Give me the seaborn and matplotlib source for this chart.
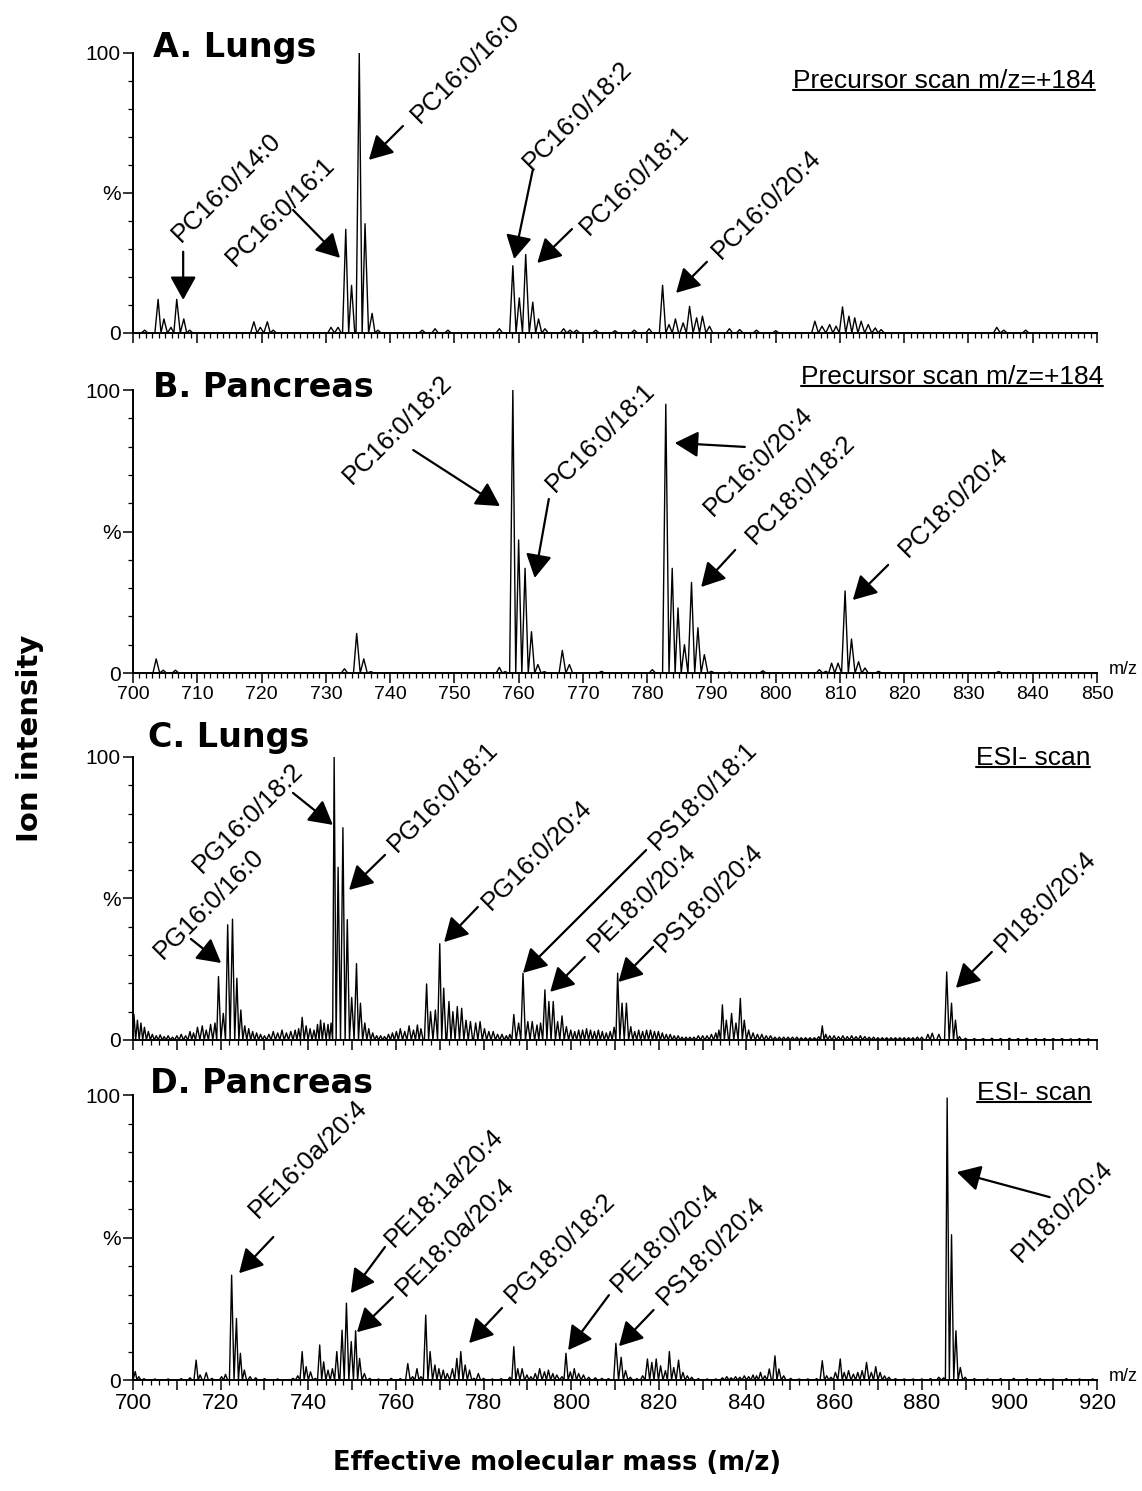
import numpy as np
import pandas as pd
import seaborn as sns
import matplotlib.pyplot as plt
from matplotlib import font_manager
from matplotlib.ticker import MultipleLocator, FixedLocator, FuncFormatter
from matplotlib.lines import Line2D
from matplotlib.transforms import IdentityTransform

sns.set_style('ticks')
plt.rcParams['font.family'] = ['Liberation Sans', 'DejaVu Sans']
for key in ['text.color', 'axes.labelcolor', 'xtick.color', 'ytick.color', 'axes.edgecolor']:
    plt.rcParams[key] = 'black'

names = {f.name for f in font_manager.fontManager.ttflist}
if 'Liberation Sans Narrow' in names:
    NARROW = ['Liberation Sans Narrow', 'DejaVu Sans']
    LBL = 22
else:
    NARROW = ['Liberation Sans', 'DejaVu Sans']
    LBL = 18.5

# ---- peak lists (m/z, relative intensity %) ----
a_mz = [701.8, 703.9, 704.8, 705.9, 706.8, 707.9, 708.8, 718.8, 719.8, 720.9, 721.8,
        730.8, 731.9, 733.1, 734.0, 735.2, 736.1, 737.2, 738.1, 745.0, 747.0, 749.0,
        757.0, 759.1, 760.1, 761.1, 762.2, 763.1, 764.1, 767.0, 768.0, 769.0, 772.0,
        775.0, 778.0, 780.3, 782.4, 783.4, 784.4, 785.6, 786.6, 787.7, 788.6, 789.7,
        792.8, 794.4, 797.0, 800.0, 806.1, 807.2, 808.4, 809.4, 810.4, 811.4, 812.3,
        813.3, 814.4, 815.5, 816.4, 834.4, 835.5, 838.9]
a_int = [1, 12, 5, 2, 12, 5, 1, 4, 2, 4, 1,
         2, 2, 37, 17, 100, 39, 7, 1, 1, 1.5, 1,
         1.5, 24, 12.5, 28, 11, 5, 1.5, 1.5, 1, 1, 1,
         0.8, 1, 1.5, 17, 3, 5, 3.6, 9.5, 5.4, 6, 2.4,
         1.5, 1.2, 1, 0.8, 4.2, 2.4, 3, 2.4, 9.3, 6, 5.4,
         4.2, 3, 1.8, 1.2, 2, 1, 1]

b_mz = [703.6, 704.7, 706.6, 732.9, 734.8, 735.9, 737.0, 757.0, 757.9, 759.1, 760.0,
        761.0, 762.0, 763.0, 764.0, 766.8, 767.9, 772.9, 780.8, 782.9, 783.9, 784.8,
        785.8, 786.9, 787.9, 788.9, 790.0, 792.8, 798.0, 806.8, 807.8, 808.7, 809.7,
        810.8, 811.8, 812.9, 813.9, 816.0, 834.7]
b_int = [5, 1, 1, 1.5, 14, 5, 0.5, 2, 0.5, 100, 47,
         37, 14.6, 3, 0.5, 8, 3, 0.6, 1.2, 95, 37, 23,
         10, 32, 16, 6.5, 0.6, 0.3, 0.8, 1.2, 0.6, 3.5, 3.5,
         29, 12, 4, 1.8, 0.6, 0.5]

c_mz = [700.2, 701.0, 701.8, 702.6, 703.5, 704.4, 705.3, 706.2, 707.1, 708.0, 709.0,
        710.0, 711.0, 712.0, 713.0, 713.8, 714.7, 715.8, 716.7, 717.7, 718.7, 719.5,
        720.6, 721.6, 722.7, 723.7, 724.6, 725.5, 726.4, 727.3, 728.2, 729.1, 730.0,
        731.0, 732.0, 733.0, 734.0, 735.0, 736.0, 737.0, 737.8, 738.6, 739.5, 740.4,
        741.3, 742.1, 742.8, 743.6, 744.5, 745.2, 745.9, 746.8, 747.9, 748.9, 749.9,
        751.0, 751.9, 752.9, 753.8, 754.7, 755.6, 756.5, 757.4, 758.3, 759.2, 760.1,
        761.0, 762.0, 763.0, 764.0, 764.9, 765.7, 767.0, 767.9, 769.0, 770.0, 770.9,
        772.1, 773.0, 774.0, 775.0, 776.0, 777.0, 778.2, 779.2, 780.2, 781.2, 782.2,
        783.2, 784.2, 785.2, 786.0, 786.9, 788.0, 789.0, 790.1, 791.1, 792.2, 793.0,
        794.0, 794.9, 795.9, 796.9, 797.9, 798.9, 799.9, 800.8, 801.7, 802.6, 803.5,
        804.4, 805.3, 806.2, 807.1, 808.0, 808.9, 809.8, 810.6, 811.6, 812.6, 813.6,
        814.5, 815.4, 816.3, 817.2, 818.1, 819.0, 819.9, 820.8, 821.7, 822.6, 823.5,
        824.4, 825.3, 826.2, 827.1, 828.0, 829.0, 830.0, 831.0, 832.0, 833.0, 833.7,
        834.5, 835.4, 836.6, 837.6, 838.6, 839.5, 840.5, 841.5, 842.5, 843.5, 844.5,
        845.5, 846.5, 847.5, 848.5, 849.5, 850.5, 851.5, 852.5, 853.5, 854.5, 855.5,
        856.5, 857.3, 858.1, 859.0, 860.0, 861.0, 862.0, 863.0, 864.0, 865.0, 866.0,
        867.0, 868.0, 869.0, 870.0, 871.0, 872.0, 873.0, 874.0, 875.0, 876.0, 877.0,
        878.0, 879.0, 880.0, 881.4, 882.4, 883.9, 885.7, 886.8, 887.7, 888.6, 890.0,
        892.0, 894.0, 896.0, 898.0, 900.0, 902.0, 904.0, 906.0, 908.0, 910.0, 912.0,
        914.0, 916.0, 918.0]
c_int = [9, 7, 6, 4.5, 3, 2, 1.5, 1.8, 1.2, 1.5, 1,
         1.5, 2, 1.5, 3, 2.5, 4.5, 5, 3.5, 5.5, 6, 22.4,
         9.4, 40.7, 42.7, 21.8, 10.6, 5, 4, 3, 2.5, 2, 1.5,
         2, 3, 2.5, 3.5, 2.5, 3, 3.5, 4, 8, 5, 4,
         3.5, 5.5, 7, 6, 5.5, 6, 100, 61, 75, 42.5, 15,
         27, 13, 6, 4, 2.5, 1.5, 1.5, 1.2, 2, 2.5, 3,
         4, 3, 5, 3.5, 5.3, 4, 19.8, 10, 10.6, 34, 18.3,
         13.6, 10, 11.8, 11.2, 7, 6.5, 6, 6.5, 4, 3, 3,
         2, 2, 1.5, 2, 9, 6, 23.6, 6.5, 6.5, 5.3, 6,
         17.7, 13.6, 13.6, 6.5, 8.5, 4.7, 3.5, 3, 3.5, 3.5, 4,
         3.5, 3, 3.5, 3, 2.5, 3, 4.5, 23.6, 13, 13, 4.7,
         3, 3.5, 3, 3.5, 3.5, 3, 3, 2.5, 2, 2, 1.5,
         1.5, 1, 1, 1, 1, 1.5, 1.5, 1.5, 2, 2.5, 3.5,
         12.4, 7, 9.4, 6, 14.7, 7, 3.5, 2.5, 2, 2, 1.5,
         1.5, 1, 1, 1, 1, 1, 1, 0.8, 0.8, 0.8, 0.8,
         1.2, 5, 2, 1.5, 1.5, 1.2, 1.5, 1.2, 1.5, 1.2, 1.5,
         1.2, 1, 1, 0.8, 0.8, 0.8, 0.8, 0.8, 0.8, 0.8, 0.8,
         0.8, 1, 1, 2, 2.4, 2, 24, 13, 7, 1.2, 0.6,
         0.5, 0.5, 0.6, 0.5, 0.6, 0.5, 0.6, 0.5, 0.5, 0.5, 0.5,
         0.4, 0.5, 0.4]

d_mz = [700.5, 701.3, 702.5, 705.0, 708.0, 711.0, 713.0, 714.4, 715.3, 716.7, 718.0,
        720.2, 721.1, 722.5, 723.6, 724.5, 725.4, 726.7, 728.0, 730.0, 733.0, 736.5,
        737.6, 738.6, 739.5, 740.5, 741.6, 742.6, 743.5, 744.5, 745.5, 746.5, 747.7,
        748.7, 749.8, 750.8, 751.7, 752.8, 754.0, 756.0, 758.9, 761.0, 762.7, 763.8,
        764.8, 765.7, 766.8, 767.8, 768.9, 769.8, 770.8, 771.7, 772.9, 773.9, 774.8,
        775.8, 776.8, 777.8, 778.8, 780.0, 782.0, 784.0, 786.0, 786.9, 787.8, 788.8,
        789.9, 790.8, 791.8, 792.8, 793.9, 794.8, 795.8, 796.7, 797.9, 798.8, 799.8,
        800.7, 801.7, 802.8, 804.0, 805.5, 807.0, 808.5, 810.2, 811.4, 812.4, 813.5,
        815.0, 816.3, 817.4, 818.4, 819.4, 820.4, 821.5, 822.4, 823.4, 824.5, 825.5,
        826.5, 827.5, 829.0, 831.0, 833.0, 834.5, 835.5, 836.5, 837.5, 838.5, 839.5,
        840.5, 841.5, 842.3, 843.2, 844.2, 845.2, 846.5, 847.4, 848.5, 850.1, 852.0,
        854.0, 856.0, 857.3, 858.3, 859.3, 860.3, 861.4, 862.3, 863.3, 864.4, 865.4,
        866.4, 867.4, 868.5, 869.5, 870.5, 871.5, 872.5, 874.0, 876.0, 878.0, 880.0,
        882.0, 883.9, 885.0, 885.8, 886.8, 887.8, 888.8, 889.9, 892.0, 895.0, 898.0,
        901.0, 904.0, 907.0, 910.0, 913.0, 916.0, 919.0]
d_int = [3, 1.2, 0.5, 0.4, 0.4, 0.5, 0.8, 7, 1.8, 2.6, 0.6,
         1.2, 2, 36.8, 21.6, 9.4, 3.5, 1.2, 0.8, 0.5, 0.4, 0.6,
         1.5, 10, 4.7, 2.9, 0.6, 12.3, 6.4, 3.5, 4, 10, 17.5,
         27, 13.5, 17.3, 7.6, 2.3, 0.6, 0.4, 0.6, 0.5, 5.8, 1.2,
         4, 1.2, 22.8, 10, 5.3, 4, 3.5, 2.3, 4, 7.6, 10,
         5.3, 3.5, 0.6, 2.3, 0.6, 0.4, 0.5, 1, 11.7, 4, 4,
         1.8, 1.2, 2.3, 4, 2.9, 3.5, 2.3, 1.8, 1.2, 9.4, 2.9,
         4, 2.3, 1.8, 1, 0.8, 0.6, 0.5, 12.9, 8, 3.3, 1,
         0.5, 1.5, 7.4, 6.2, 7.4, 5, 3.3, 10, 4.4, 7, 2.7,
         1.5, 1, 0.5, 0.4, 0.4, 0.8, 1.2, 0.8, 1.2, 1, 1.5,
         1.2, 1.8, 1.5, 2.7, 1.5, 3.9, 8.5, 3.9, 1.5, 0.6, 0.4,
         0.4, 0.5, 6.8, 1.5, 1, 2.7, 7.4, 2.7, 3.3, 2.1, 2.7,
         3.3, 6.2, 2.7, 4.7, 2.7, 1.5, 1, 0.5, 0.4, 0.4, 0.4,
         0.5, 1, 0.8, 99, 51, 17.3, 4.4, 1, 0.5, 0.4, 0.5,
         0.6, 0.5, 0.5, 0.4, 0.5, 0.4, 0.4]

# annotation layout: label, text centre, arrow tail, arrow tip (data coords)
a_notes = [('PC16:0/14:0', (714.6, 51.8), (707.8, 29.0), (707.8, 11.8)),
           ('PC16:0/16:1', (722.9, 43.2), (724.9, 43.9), (732.2, 26.8)),
           ('PC16:0/16:0', (751.7, 94.6), (742.0, 73.9), (736.7, 61.8)),
           ('PC16:0/18:2', (769.2, 77.5), (762.2, 58.2), (759.3, 26.4)),
           ('PC16:0/18:1', (778.0, 54.3), (768.3, 37.1), (762.9, 25.0)),
           ('PC16:0/20:4', (798.5, 45.7), (789.3, 25.4), (784.5, 14.3))]
b_notes = [('PC16:0/18:2', (741.2, 85.9), (743.6, 78.8), (757.1, 59.0)),
           ('PC16:0/18:1', (772.8, 83.4), (764.7, 61.5), (762.5, 33.6)),
           ('PC16:0/20:4', (797.4, 74.6), (795.2, 79.9), (784.3, 81.3)),
           ('PC18:0/18:2', (803.8, 64.7), (793.7, 43.5), (788.4, 30.4)),
           ('PC18:0/20:4', (827.6, 60.4), (817.5, 38.2), (812.0, 25.8))]
c_notes = [('PG16:0/16:0', (717.3, 48.0), (713.2, 35.7), (720.1, 27.2)),
           ('PG16:0/18:2', (726.3, 78.4), (736.5, 87.3), (745.6, 76.0)),
           ('PG16:0/18:1', (770.7, 85.9), (757.5, 65.4), (749.3, 53.0)),
           ('PG16:0/20:4', (792.2, 65.4), (778.7, 47.0), (771.0, 34.6)),
           ('PS18:0/18:1', (830.1, 86.2), (817.1, 67.1), (789.0, 23.7)),
           ('PE18:0/20:4', (816.2, 50.2), (803.1, 29.3), (795.2, 17.0)),
           ('PS18:0/20:4', (831.4, 50.2), (818.7, 32.9), (810.8, 20.5)),
           ('PI18:0/20:4', (908.3, 48.8), (896.0, 31.1), (887.8, 18.4))]
d_notes = [('PE16:0a/20:4', (740.0, 77.5), (732.0, 50.2), (724.2, 37.5)),
           ('PE18:1a/20:4', (771.0, 67.4), (757.5, 46.7), (749.7, 30.5)),
           ('PE18:0a/20:4', (773.5, 50.2), (759.3, 29.1), (751.1, 16.8)),
           ('PG18:0/18:2', (797.4, 46.3), (784.2, 25.3), (776.7, 13.0)),
           ('PE18:0/20:4', (821.4, 49.8), (808.6, 29.8), (799.3, 10.5)),
           ('PS18:0/20:4', (831.8, 45.3), (818.8, 24.6), (810.9, 11.9)),
           ('PI18:0/20:4', (912.2, 59.3), (909.2, 64.2), (888.0, 73.0))]


def profile(mz, inten):
    # join the peaks into one trace, dropping to the baseline between them
    xs, ys = [mz[0] - 0.5], [0]
    for i in range(len(mz)):
        xs.append(mz[i]); ys.append(inten[i])
        if i < len(mz) - 1:
            nxt = mz[i + 1]
            if nxt - mz[i] <= 1.2:
                xs.append((mz[i] + nxt) / 2); ys.append(0)
            else:
                xs += [mz[i] + 0.5, nxt - 0.5]; ys += [0, 0]
    xs.append(mz[-1] + 0.5); ys.append(0)
    return pd.DataFrame({'mz': xs, 'intensity': ys})


def draw_panel(ax, mz, inten, xmax, major, minor, show_x, xlab_size, label_every):
    df = profile(mz, inten)
    sns.lineplot(data=df, x='mz', y='intensity', ax=ax, sort=False, estimator=None,
                 color='black', lw=1.0)
    ax.set_xlim(700, xmax)
    ax.set_ylim(0, 100)
    ax.set_xlabel('')
    ax.set_ylabel('')
    for s in ['top', 'right']:
        ax.spines[s].set_visible(False)
    for s in ['left', 'bottom']:
        ax.spines[s].set_linewidth(1.4)
        ax.spines[s].set_color('black')
    ax.yaxis.set_major_locator(FixedLocator([0, 50, 100]))
    ax.yaxis.set_major_formatter(FuncFormatter(lambda v, p: {0: '0', 50: '%', 100: '100'}.get(int(round(v)), '')))
    ax.yaxis.set_minor_locator(MultipleLocator(10))
    ax.xaxis.set_major_locator(MultipleLocator(major))
    ax.xaxis.set_minor_locator(MultipleLocator(minor))
    ax.xaxis.set_major_formatter(FuncFormatter(
        lambda v, p: ('%d' % round(v)) if round(v) % label_every == 0 else ''))
    ax.tick_params(axis='both', which='major', direction='out', length=7, width=1.1,
                   color='black', labelcolor='black', pad=2)
    ax.tick_params(axis='both', which='minor', direction='out', length=3.5, width=0.9,
                   color='black')
    ax.tick_params(axis='y', labelsize=15)
    ax.tick_params(axis='x', labelsize=xlab_size, labelbottom=show_x)
    ax.patch.set_alpha(0)


def annotate(ax, notes):
    for label, txt, tail, tip in notes:
        ax.annotate('', xy=tip, xytext=tail, annotation_clip=False,
                    arrowprops=dict(arrowstyle='-|>,head_length=0.9,head_width=0.5',
                                    mutation_scale=16, lw=1.6, color='black',
                                    shrinkA=0, shrinkB=0))
        ax.text(txt[0], txt[1], label, rotation=45, ha='center', va='center',
                fontsize=LBL, family=NARROW, color='black', clip_on=False)


fig = plt.figure(figsize=(11.42, 14.91), dpi=100)
ax_a = fig.add_axes([0.1165, 0.7767, 0.8441, 0.1878])
ax_b = fig.add_axes([0.1165, 0.5486, 0.8441, 0.1898])
ax_c = fig.add_axes([0.1165, 0.3025, 0.8441, 0.1898])
ax_d = fig.add_axes([0.1165, 0.0744, 0.8441, 0.1911])

draw_panel(ax_a, a_mz, a_int, 850, 10, 1, False, 14, 10)
draw_panel(ax_b, b_mz, b_int, 850, 10, 1, True, 14, 10)
draw_panel(ax_c, c_mz, c_int, 920, 10, 2, False, 16, 20)
draw_panel(ax_d, d_mz, d_int, 920, 10, 2, True, 16, 20)

annotate(ax_a, a_notes)
annotate(ax_b, b_notes)
annotate(ax_c, c_notes)
annotate(ax_d, d_notes)

bold = dict(fontsize=24, fontweight='bold', family='DejaVu Sans', va='baseline',
            color='black')
ax_a.text(0.021, 0.986, 'A. Lungs', transform=ax_a.transAxes, **bold)
ax_b.text(0.021, 0.975, 'B. Pancreas', transform=ax_b.transAxes, **bold)
ax_c.text(0.016, 1.035, 'C. Lungs', transform=ax_c.transAxes, **bold)
ax_d.text(0.018, 1.007, 'D. Pancreas', transform=ax_d.transAxes, **bold)

scan = dict(ha='right', va='baseline', fontsize=LBL + 0.5, family=NARROW, color='black')
scan_texts = [
    ax_a.text(0.998, 0.875, 'Precursor scan m/z=+184', transform=ax_a.transAxes, **scan),
    ax_b.text(1.006, 1.022, 'Precursor scan m/z=+184', transform=ax_b.transAxes, **scan),
    ax_c.text(0.993, 0.972, 'ESI- scan', transform=ax_c.transAxes, **scan),
    ax_d.text(0.994, 0.982, 'ESI- scan', transform=ax_d.transAxes, **scan),
]

for ax in [ax_b, ax_d]:
    ax.text(1.012, 0.012, 'm/z', transform=ax.transAxes, ha='left', va='center',
            fontsize=13, color='black')

fig.text(0.026, 0.505, 'Ion intensity', rotation=90, ha='center', va='center',
         fontsize=21, fontweight='bold', family='DejaVu Sans', color='black')
fig.text(0.488, 0.0185, 'Effective molecular mass (m/z)', ha='center', va='center',
         fontsize=18.5, fontweight='bold', family='DejaVu Sans', color='black')

# underline the scan labels
fig.canvas.draw()
renderer = fig.canvas.get_renderer()
for t in scan_texts:
    bb = t.get_window_extent(renderer)
    y = bb.y0 + 0.13 * bb.height
    fig.add_artist(Line2D([bb.x0, bb.x1], [y, y], transform=IdentityTransform(),
                          color='black', lw=1.5))

fig.savefig('out.png', dpi=100)
